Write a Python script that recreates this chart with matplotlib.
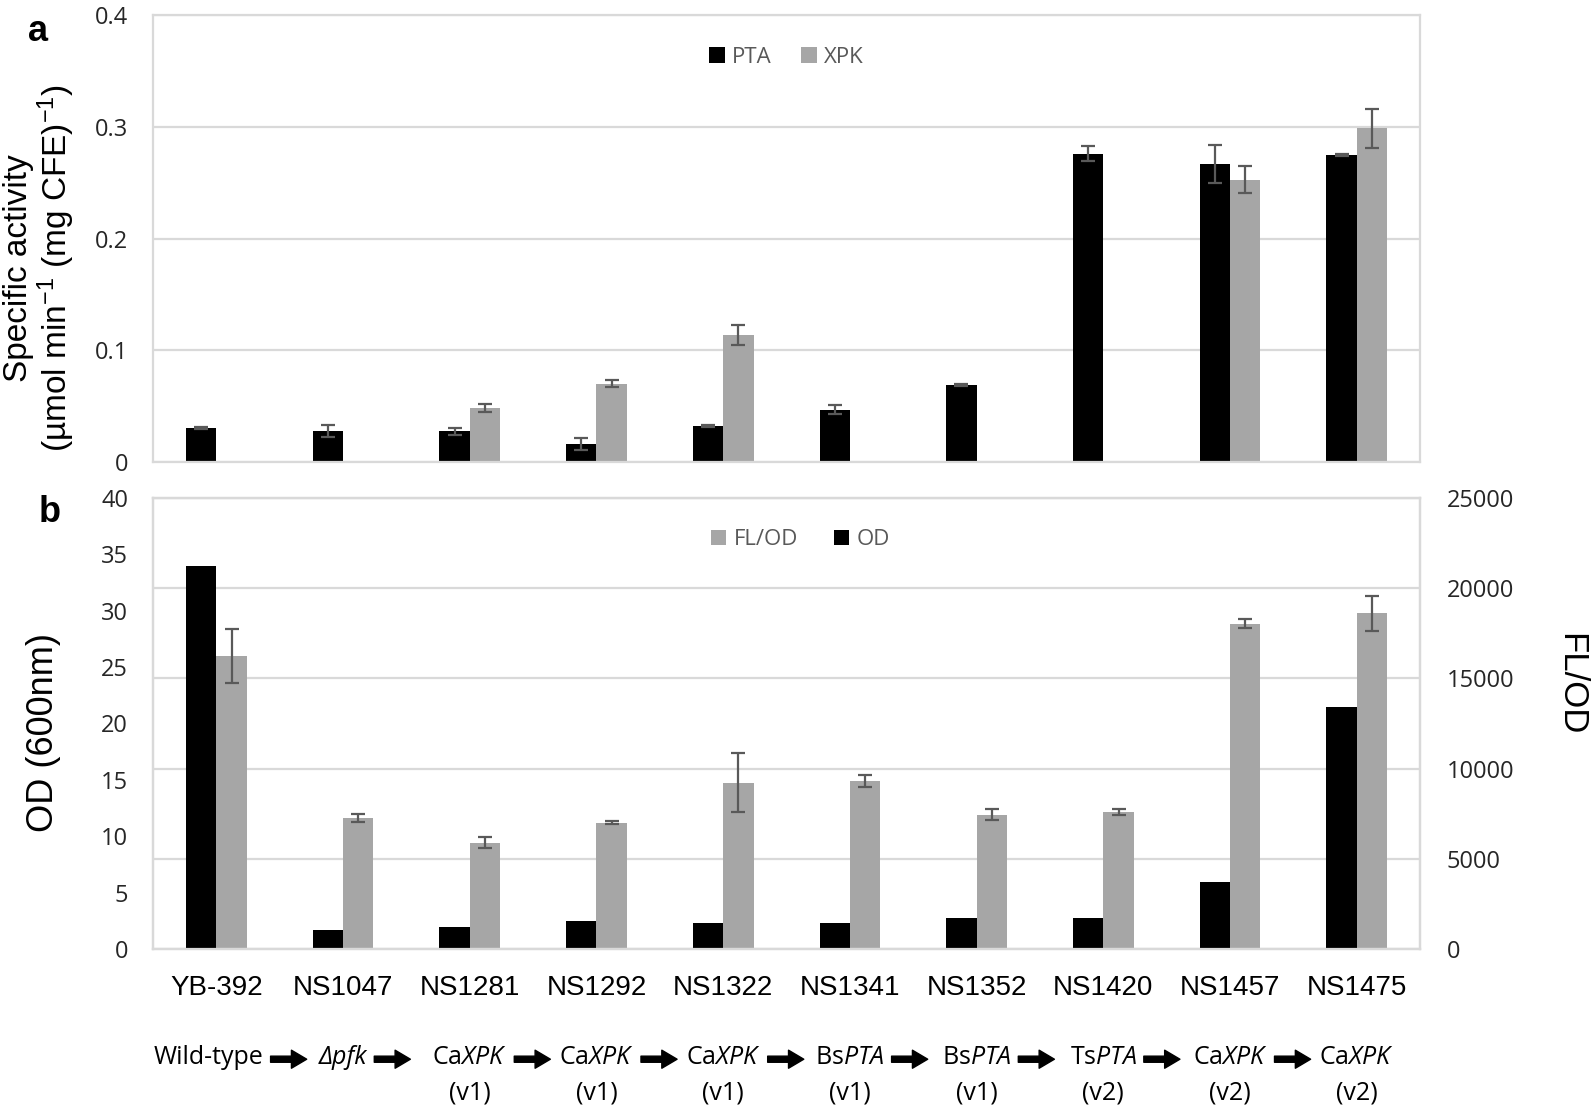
import matplotlib
matplotlib.use("Agg")
import matplotlib.pyplot as plt
import matplotlib.transforms as mtransforms
from matplotlib.text import OffsetFrom
from matplotlib.ticker import FuncFormatter
import numpy as np

# strains and the engineering step that produced each one
strains = ['YB-392', 'NS1047', 'NS1281', 'NS1292', 'NS1322',
           'NS1341', 'NS1352', 'NS1420', 'NS1457', 'NS1475']
step_prefix = ['Wild-type', '', 'Ca', 'Ca', 'Ca', 'Bs', 'Bs', 'Ts', 'Ca', 'Ca']
step_gene = ['', 'Δpfk', 'XPK', 'XPK', 'XPK', 'PTA', 'PTA', 'PTA', 'XPK', 'XPK']
step_version = ['', '', '(v1)', '(v1)', '(v1)', '(v1)', '(v1)', '(v2)', '(v2)', '(v2)']

# panel a: specific activity (umol/min/mg CFE)
pta = [0.0304, 0.0275, 0.0275, 0.0164, 0.0320, 0.0469, 0.0687, 0.2760, 0.2666, 0.2746]
pta_err = [0.001, 0.0055, 0.003, 0.0055, 0.001, 0.004, 0.001, 0.007, 0.0173, 0.001]
xpk = [0.0005, 0, 0.0484, 0.0701, 0.1140, 0, 0, 0, 0.2528, 0.2985]
xpk_err = [0, 0, 0.0033, 0.003, 0.009, 0, 0, 0, 0.012, 0.0175]

# panel b: OD600 and FL/OD
od = [34.0, 1.68, 1.97, 2.5, 2.27, 2.27, 2.71, 2.71, 5.95, 21.5]
flod = [16250, 7260, 5900, 7000, 9210, 9300, 7440, 7590, 18040, 18610]
flod_err = [1500, 200, 320, 80, 1630, 340, 300, 160, 240, 960]

BLACK = '#000000'
GREY = '#a6a6a6'
ERR = '#595959'
GRID = '#d9d9d9'
TXT = '#262626'

plt.rcParams['font.family'] = ['Liberation Sans', 'DejaVu Sans']
plt.rcParams['mathtext.fontset'] = 'custom'
plt.rcParams['mathtext.rm'] = 'Liberation Sans'
plt.rcParams['mathtext.it'] = 'Open Sans:italic'

fig = plt.figure(figsize=(15.94, 11.14), dpi=100)
ax_a = fig.add_axes([0.096, 0.5853, 0.7949, 0.4012])
ax_b = fig.add_axes([0.096, 0.1481, 0.7949, 0.4049])
ax_b2 = ax_b.twinx()

x = np.arange(len(strains))
w = 0.24
ekw = dict(fmt='none', ecolor=ERR, elinewidth=1.6, capsize=5, capthick=1.6)


def style_box(ax):
    for s in ax.spines.values():
        s.set_color(GRID)
        s.set_linewidth(1.6)
    ax.tick_params(length=0, labelsize=17, colors=TXT)
    for lab in ax.get_yticklabels():
        lab.set_fontfamily('Open Sans')


# ---- panel a
ax_a.bar(x - w / 2, pta, w, color=BLACK, label='PTA', zorder=2)
ax_a.bar(x + w / 2, xpk, w, color=GREY, label='XPK', zorder=2)
pe = np.array(pta_err)
xe = np.array(xpk_err)
m = pe > 0
ax_a.errorbar((x - w / 2)[m], np.array(pta)[m], yerr=pe[m], zorder=3, **ekw)
m = xe > 0
ax_a.errorbar((x + w / 2)[m], np.array(xpk)[m], yerr=xe[m], zorder=3, **ekw)
ax_a.set_xlim(-0.5, len(strains) - 0.5)
ax_a.set_ylim(0, 0.4)
ax_a.set_yticks(np.arange(0, 0.41, 0.1))
ax_a.yaxis.set_major_formatter(FuncFormatter(lambda v, p: '0' if v == 0 else f'{v:.1f}'))
ax_a.set_xticks([])
ax_a.grid(axis='y', color=GRID, linewidth=1.6)
ax_a.set_axisbelow(True)
style_box(ax_a)
ax_a.tick_params(axis='y', pad=18)
ax_a.set_ylabel('Specific activity\n(µmol min$^{-1}$ (mg CFE)$^{-1}$)', fontsize=24,
                linespacing=1.05)
ax_a.yaxis.set_label_coords(-0.060, 0.434)
leg = ax_a.legend(loc='center', bbox_to_anchor=(0.5, 0.905), ncol=2, frameon=False,
                  handlelength=0.7, handleheight=0.7, handletextpad=0.35,
                  columnspacing=1.3, prop={'family': 'Open Sans', 'size': 16})
for t in leg.get_texts():
    t.set_color('#595959')

# ---- panel b (OD on left axis, FL/OD on right axis)
ax_b2.bar(x + w / 2, flod, w, color=GREY, label='FL/OD', zorder=2)
ax_b2.errorbar(x + w / 2, flod, yerr=flod_err, zorder=3, **ekw)
ax_b2.set_ylim(0, 25000)
ax_b2.set_yticks(np.arange(0, 25001, 5000))
ax_b2.grid(axis='y', color=GRID, linewidth=1.6)
ax_b2.set_axisbelow(True)

ax_b.bar(x - w / 2, od, w, color=BLACK, label='OD', zorder=2)
ax_b.set_ylim(0, 40)
ax_b.set_yticks(np.arange(0, 41, 5))
ax_b.set_xlim(-0.5, len(strains) - 0.5)
ax_b.set_xticks(x)
ax_b.set_xticklabels(strains, fontsize=20, color='black')
ax_b.set_zorder(ax_b2.get_zorder() + 1)
ax_b.patch.set_visible(False)

style_box(ax_b)
style_box(ax_b2)
ax_b.tick_params(axis='x', pad=19, labelsize=20, labelcolor='black')
ax_b.tick_params(axis='y', pad=18)
ax_b2.tick_params(axis='y', pad=19)
ax_b.set_ylabel('OD (600nm)', fontsize=26)
ax_b.yaxis.set_label_coords(-0.0726, 0.479)
ax_b2.set_ylabel('FL/OD', fontsize=25, rotation=270, va='center')
ax_b2.yaxis.set_label_coords(1.119, 0.588)

h2, l2 = ax_b2.get_legend_handles_labels()
h1, l1 = ax_b.get_legend_handles_labels()
leg = ax_b.legend(h2 + h1, l2 + l1, loc='center', bbox_to_anchor=(0.511, 0.907), ncol=2,
                  frameon=False, handlelength=0.7, handleheight=0.7, handletextpad=0.35,
                  columnspacing=1.6, prop={'family': 'Open Sans', 'size': 16})
for t in leg.get_texts():
    t.set_color('#595959')

# panel letters
fig.text(0.024, 0.972, 'a', fontsize=26, fontweight='bold', ha='center', va='center')
fig.text(0.031, 0.540, 'b', fontsize=26, fontweight='bold', ha='center', va='center')

# lineage row under the chart
trans = mtransforms.blended_transform_factory(ax_b.transData, fig.transFigure)
row1, row2 = 0.0503, 0.0189
for i in range(len(strains)):
    if step_gene[i] == '':
        s = step_prefix[i]
        style = 'normal'
    elif step_prefix[i] == '':
        s = step_gene[i]
        style = 'italic'
    else:
        s = step_prefix[i] + '$\\mathit{' + step_gene[i] + '}$'
        style = 'normal'
    xc = i - 0.06 if i == 0 else i
    txt = ax_b.text(xc, row1, s, transform=trans, ha='center', va='center', fontsize=18,
                    family='Open Sans', style=style, color='black')
    if step_version[i]:
        ax_b.text(i, row2, step_version[i], transform=trans, ha='center', va='center',
                  fontsize=18, family='Open Sans', color='black')
    if i < len(strains) - 1:
        ref = OffsetFrom(txt, (1.0, 0.45), unit='points')
        ax_b.annotate('', xy=(31, 0), xycoords=ref, xytext=(5, 0), textcoords=ref,
                      annotation_clip=False,
                      arrowprops=dict(arrowstyle='simple,head_length=0.55,head_width=0.65,tail_width=0.22',
                                      color='black', mutation_scale=20, shrinkA=0, shrinkB=0))

fig.savefig('out.png', dpi=100)
